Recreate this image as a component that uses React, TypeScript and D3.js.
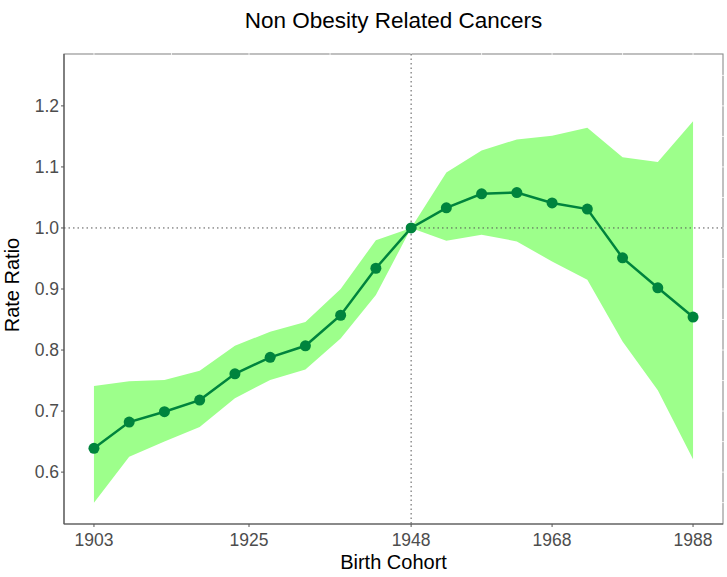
import React from "react";
import * as d3 from "d3";

const cohorts = [1903, 1908, 1913, 1918, 1923, 1928, 1933, 1938, 1943, 1948, 1953, 1958, 1963, 1968, 1973, 1978, 1983, 1988];
const rateRatio = [0.639, 0.682, 0.699, 0.718, 0.761, 0.788, 0.807, 0.857, 0.934, 1.0, 1.033, 1.056, 1.058, 1.041, 1.031, 0.951, 0.902, 0.854];
const upperCI = [0.741, 0.749, 0.751, 0.766, 0.807, 0.830, 0.846, 0.900, 0.980, 1.0, 1.091, 1.127, 1.145, 1.151, 1.164, 1.116, 1.108, 1.175];
const lowerCI = [0.550, 0.625, 0.650, 0.674, 0.721, 0.751, 0.768, 0.819, 0.890, 1.0, 0.979, 0.989, 0.978, 0.945, 0.915, 0.814, 0.734, 0.621];
const xTicks = [1903, 1925, 1948, 1968, 1988];
const xMinor = [1914, 1936.5, 1958, 1978];
const yTicks = [0.6, 0.7, 0.8, 0.9, 1.0, 1.1, 1.2];
const yMinor = [0.55, 0.65, 0.75, 0.85, 0.95, 1.05, 1.15, 1.25];

const W = 727, H = 577;
const left = 64, right = 723, top = 54, bottom = 524;

export default function App() {
  const x = d3.scaleLinear().domain([1898.75, 1992.25]).range([left, right]);
  const y = d3.scaleLinear().domain([0.515, 1.285]).range([bottom, top]);
  const idx = cohorts.map((_, i) => i);
  const area = d3.area<number>().x(i => x(cohorts[i])).y0(i => y(lowerCI[i])).y1(i => y(upperCI[i]));
  const line = d3.line<number>().x(i => x(cohorts[i])).y(i => y(rateRatio[i]));
  const font = "'Liberation Sans', Arial, sans-serif";
  return (
    <svg width={W} height={H} style={{ position: "absolute", left: 0, top: 0 }} fontFamily={font}>
      <rect x={0} y={0} width={W} height={H} fill="#fff" />
      <path d={area(idx) || ""} fill="#9dff8b" />
      <rect x={left} y={top} width={right - left} height={bottom - top} fill="none" stroke="#8c8c8c" strokeWidth={1.1} />
      {[...xTicks, ...xMinor].map(v => (
        <line key={"gx" + v} x1={x(v)} x2={x(v)} y1={top - 1} y2={top + 3} stroke="#fff" strokeWidth={0.8} />
      ))}
      {[...yTicks, ...yMinor].map(v => (
        <line key={"gy" + v} x1={right - 3} x2={right + 1} y1={y(v)} y2={y(v)} stroke="#fff" strokeWidth={0.8} />
      ))}
      <line x1={x(1948)} x2={x(1948)} y1={top} y2={bottom} stroke="#555" strokeWidth={1} strokeDasharray="1.5,3" />
      <line x1={left} x2={right} y1={y(1.0)} y2={y(1.0)} stroke="#555" strokeWidth={1} strokeDasharray="1.5,3" />
      <path d={line(idx) || ""} fill="none" stroke="#00843d" strokeWidth={2.5} />
      {idx.map(i => (
        <circle key={i} cx={x(cohorts[i])} cy={y(rateRatio[i])} r={5.5} fill="#00843d" />
      ))}
      <line x1={left} x2={left} y1={top} y2={bottom} stroke="#555" strokeWidth={1.2} />
      <line x1={left} x2={right} y1={bottom} y2={bottom} stroke="#555" strokeWidth={1.2} />
      {yTicks.map(v => (
        <g key={"yt" + v}>
          <line x1={left - 3} x2={left} y1={y(v)} y2={y(v)} stroke="#555" strokeWidth={1} />
          <text x={left - 5} y={y(v)} dy="0.36em" textAnchor="end" fontSize={17.5} fill="#4d4d4d">{v.toFixed(1)}</text>
        </g>
      ))}
      {xTicks.map(v => (
        <g key={"xt" + v}>
          <line x1={x(v)} x2={x(v)} y1={bottom} y2={bottom + 3} stroke="#555" strokeWidth={1} />
          <text x={x(v)} y={bottom + 22} textAnchor="middle" fontSize={17.5} fill="#4d4d4d">{v}</text>
        </g>
      ))}
      <text x={(left + right) / 2} y={569} textAnchor="middle" fontSize={20} fill="#000">Birth Cohort</text>
      <text transform={`translate(19,${(top + bottom) / 2 - 4}) rotate(-90)`} textAnchor="middle" fontSize={20} fill="#000">Rate Ratio</text>
      <text x={(left + right) / 2} y={28} textAnchor="middle" fontSize={22.5} fill="#000">Non Obesity Related Cancers</text>
    </svg>
  );
}
